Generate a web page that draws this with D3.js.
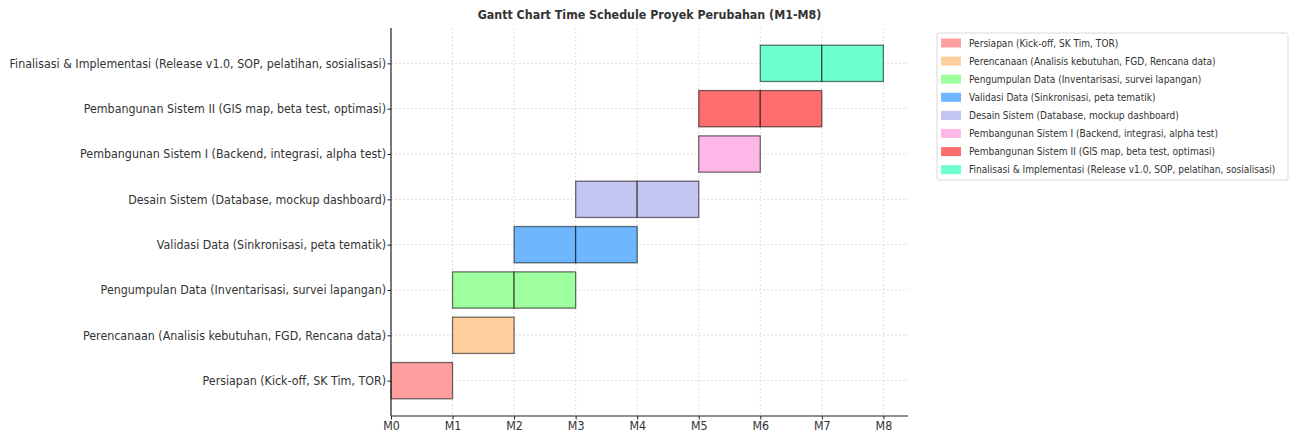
<!DOCTYPE html>
<html>
<head>
<meta charset="utf-8">
<script src="https://cdn.jsdelivr.net/npm/d3@7"></script>
<style>
  body { margin: 0; background: #fff; }
  svg { display: block; }
  text { font-family: "DejaVu Sans", sans-serif; }
</style>
</head>
<body>
<svg id="chart" width="1296" height="434"></svg>
<script>
const tasks = [
  "Persiapan (Kick-off, SK Tim, TOR)",
  "Perencanaan (Analisis kebutuhan, FGD, Rencana data)",
  "Pengumpulan Data (Inventarisasi, survei lapangan)",
  "Validasi Data (Sinkronisasi, peta tematik)",
  "Desain Sistem (Database, mockup dashboard)",
  "Pembangunan Sistem I (Backend, integrasi, alpha test)",
  "Pembangunan Sistem II (GIS map, beta test, optimasi)",
  "Finalisasi & Implementasi (Release v1.0, SOP, pelatihan, sosialisasi)"
];
const startMonth = [0, 1, 1, 2, 3, 5, 5, 6];
const durationMonths = [1, 1, 2, 2, 2, 1, 2, 2];
const colors = ["#ff9999", "#ffcc99", "#99ff99", "#66b3ff", "#c2c2f0", "#ffb3e6", "#ff6666", "#66ffcc"];
const monthTicks = [0, 1, 2, 3, 4, 5, 6, 7, 8];
const monthLabels = ["M0", "M1", "M2", "M3", "M4", "M5", "M6", "M7", "M8"];
const title = "Gantt Chart Time Schedule Proyek Perubahan (M1-M8)";

const squeeze = 0.925;
const svg = d3.select("#chart");
const plot = { left: 391, right: 908, top: 28, bottom: 416 };

const x = d3.scaleLinear().domain([0, 8.4]).range([plot.left, plot.right]);
const y = d3.scaleLinear().domain([-0.78, 7.78]).range([plot.bottom, plot.top]);
const barH = y(0) - y(0.8);

function squeezeText(sel, k = squeeze) {
  sel.each(function() {
    const w = this.getComputedTextLength();
    this.setAttribute("textLength", w * k);
    this.setAttribute("lengthAdjust", "spacingAndGlyphs");
  });
}

// grid
const g = svg.append("g");
g.selectAll("line.vgrid").data(monthTicks).join("line")
  .attr("x1", d => x(d)).attr("x2", d => x(d))
  .attr("y1", plot.top).attr("y2", plot.bottom)
  .attr("stroke", "#b0b0b0").attr("stroke-opacity", 0.5)
  .attr("stroke-width", 0.8).attr("stroke-dasharray", "2,2");
g.selectAll("line.hgrid").data(tasks).join("line")
  .attr("x1", plot.left).attr("x2", plot.right)
  .attr("y1", (d, i) => y(i)).attr("y2", (d, i) => y(i))
  .attr("stroke", "#b0b0b0").attr("stroke-opacity", 0.5)
  .attr("stroke-width", 0.8).attr("stroke-dasharray", "2,2");

// bars: one cell per month
const cells = [];
tasks.forEach((t, i) => {
  for (let m = 0; m < durationMonths[i]; m++) {
    cells.push({ row: i, month: startMonth[i] + m, color: colors[i] });
  }
});
svg.append("g").selectAll("rect").data(cells).join("rect")
  .attr("x", d => x(d.month))
  .attr("width", d => x(d.month + 1) - x(d.month))
  .attr("y", d => y(d.row) - barH / 2)
  .attr("height", barH)
  .attr("fill", d => d.color).attr("fill-opacity", 0.95)
  .attr("stroke", "#000").attr("stroke-opacity", 0.55).attr("stroke-width", 1.3);

// axes
const xAxis = svg.append("g").attr("transform", `translate(0,${plot.bottom})`)
  .call(d3.axisBottom(x).tickValues(monthTicks).tickFormat((d, i) => monthLabels[i]).tickSize(3.5).tickSizeOuter(0));
const yAxis = svg.append("g").attr("transform", `translate(${plot.left},0)`)
  .call(d3.axisLeft(y).tickValues(d3.range(tasks.length)).tickFormat(i => tasks[i]).tickSize(3.5).tickSizeOuter(0));
[xAxis, yAxis].forEach(a => {
  a.select(".domain").attr("stroke", "#222").attr("stroke-width", 1.2);
  a.selectAll(".tick line").attr("stroke", "#222");
  a.selectAll("text").attr("font-family", "DejaVu Sans").attr("font-size", 12).attr("fill", "#333");
});
xAxis.select(".domain").attr("d", `M${plot.left},0H${plot.right}`);
yAxis.select(".domain").attr("d", `M0,${plot.top}V${plot.bottom}`);
xAxis.selectAll("text").attr("y", 5.5).attr("dy", "0.71em");
yAxis.selectAll("text").attr("x", -5);
squeezeText(xAxis.selectAll("text"));
squeezeText(yAxis.selectAll("text"));

// title
svg.append("text").attr("x", (plot.left + plot.right) / 2).attr("y", 19)
  .attr("text-anchor", "middle").attr("font-size", 12).attr("font-weight", "bold")
  .attr("fill", "#333").text(title).call(squeezeText);

// legend
const lg = svg.append("g").attr("transform", "translate(937,33)");
lg.append("rect").attr("width", 351).attr("height", 147).attr("rx", 2)
  .attr("fill", "#fff").attr("stroke", "#d0d0d0").attr("stroke-width", 0.8);
const items = lg.selectAll("g.item").data(tasks).join("g")
  .attr("transform", (d, i) => `translate(4,${10 + i * 18.1})`);
items.append("rect").attr("x", 0).attr("y", -4.5).attr("width", 20).attr("height", 9)
  .attr("fill", (d, i) => colors[i]).attr("fill-opacity", 0.95);
items.append("text").attr("transform", "translate(28,0) scale(0.905,1)")
  .attr("x", 0).attr("y", 0).attr("dy", "0.35em")
  .attr("font-size", 10).attr("fill", "#333").text(d => d);
</script>
</body>
</html>
